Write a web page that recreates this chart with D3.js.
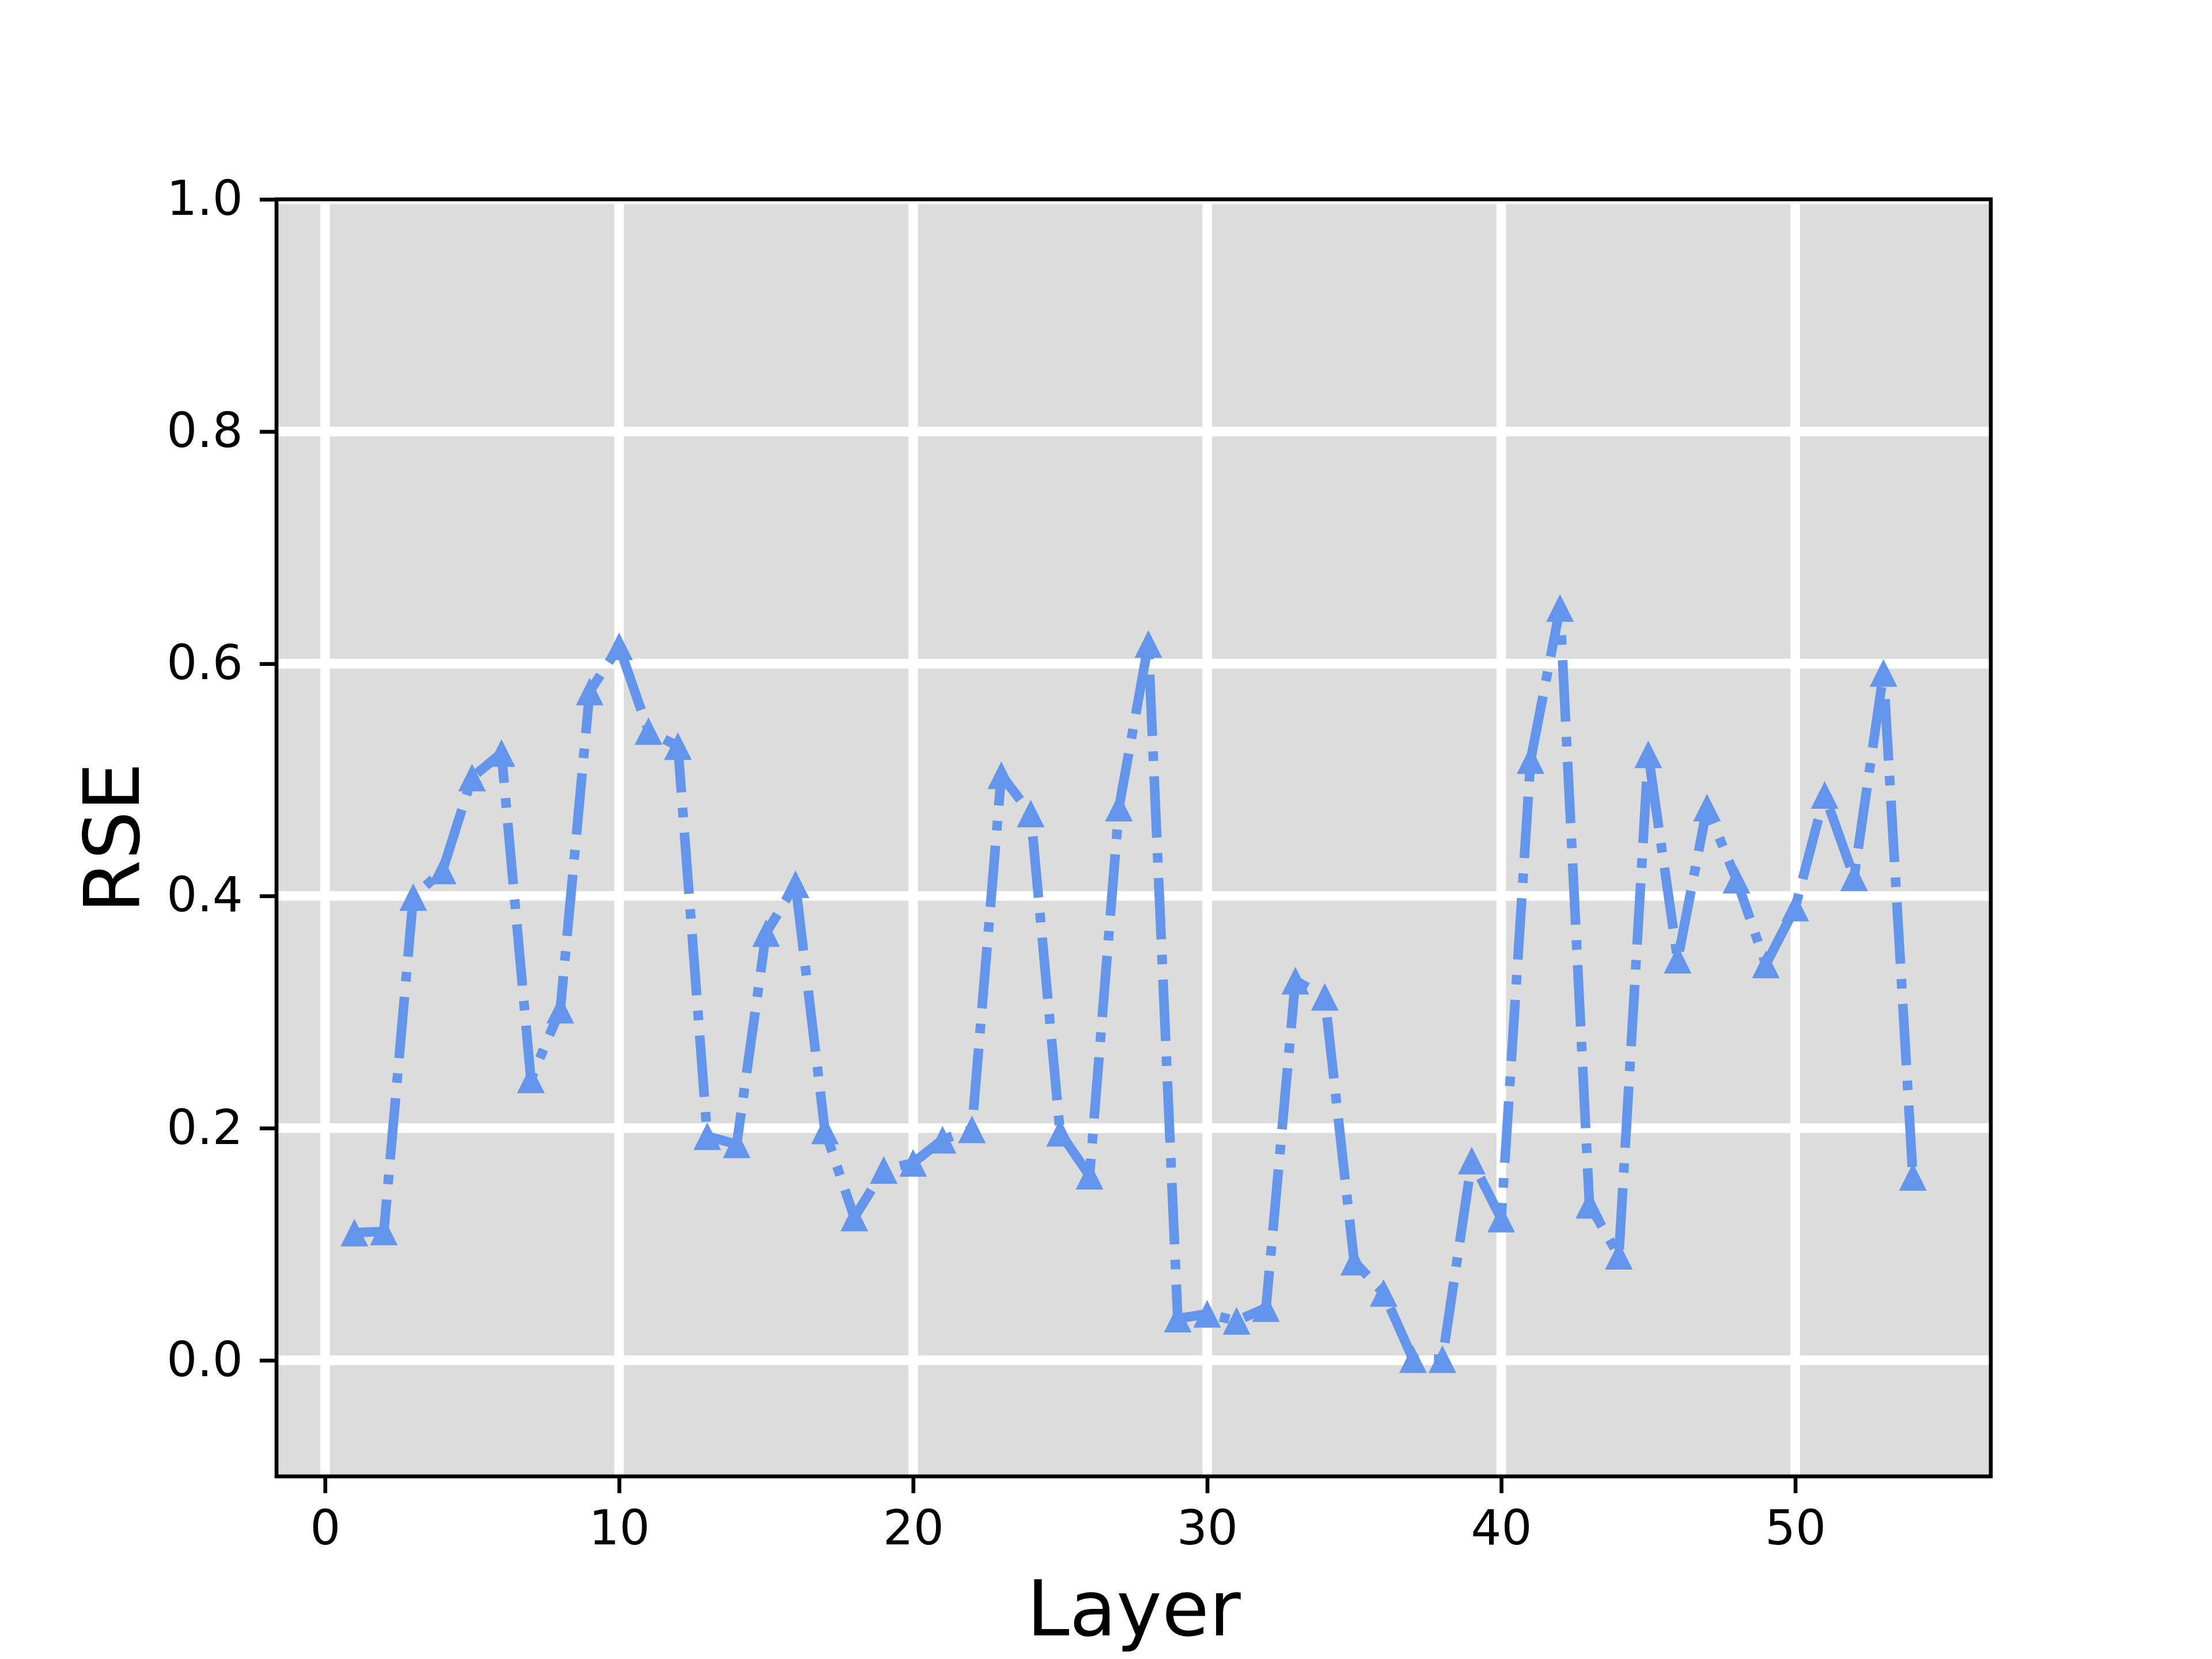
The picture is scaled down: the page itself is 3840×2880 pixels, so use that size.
<!DOCTYPE html>
<html>
<head>
<meta charset="utf-8">
<script src="https://cdn.jsdelivr.net/npm/d3@7"></script>
<style>
  body { margin: 0; background: #fff; }
  svg { display: block; font-family: "DejaVu Sans", sans-serif; }
</style>
</head>
<body>
<div id="chart"></div>
<script>
const layers = d3.range(1, 55);
const rse = [
  0.110, 0.111, 0.399, 0.422, 0.502, 0.523, 0.242, 0.302, 0.576, 0.615,
  0.542, 0.529, 0.193, 0.186, 0.368, 0.410, 0.198, 0.123, 0.164, 0.170,
  0.190, 0.199, 0.504, 0.471, 0.196, 0.159, 0.476, 0.617, 0.036, 0.040,
  0.034, 0.045, 0.327, 0.313, 0.085, 0.058, 0.001, 0.001, 0.172, 0.122,
  0.517, 0.648, 0.134, 0.090, 0.522, 0.345, 0.476, 0.414, 0.341, 0.390,
  0.487, 0.416, 0.592, 0.158
];
const xTicks = [0, 10, 20, 30, 40, 50];
const yTicks = [0.0, 0.2, 0.4, 0.6, 0.8, 1.0];

const width = 3840, height = 2880;
const margin = { top: 346, right: 384, bottom: 317, left: 480 };
const pt = 600 / 72; // matplotlib points -> px at 600 dpi

const data = layers.map((l, i) => ({ layer: l, value: rse[i] }));

const svg = d3.select("#chart").append("svg")
  .attr("width", width)
  .attr("height", height);

const x = d3.scaleLinear().domain([-1.65, 56.65]).range([margin.left, width - margin.right]);
const y = d3.scaleLinear().domain([-0.1, 1.0]).range([height - margin.bottom, margin.top]);

// axes background
svg.append("rect")
  .attr("x", margin.left)
  .attr("y", margin.top)
  .attr("width", width - margin.left - margin.right)
  .attr("height", height - margin.top - margin.bottom)
  .attr("fill", "#dcdcdc");

// grid
const grid = svg.append("g").attr("stroke", "#fff").attr("stroke-width", 2 * pt);
grid.selectAll(".gx").data(xTicks).join("line")
  .attr("x1", d => x(d)).attr("x2", d => x(d))
  .attr("y1", margin.top).attr("y2", height - margin.bottom);
grid.selectAll(".gy").data(yTicks).join("line")
  .attr("x1", margin.left).attr("x2", width - margin.right)
  .attr("y1", d => y(d)).attr("y2", d => y(d));

// line, dash-dot
const lw = 2 * pt;
svg.append("path")
  .datum(data)
  .attr("fill", "none")
  .attr("stroke", "cornflowerblue")
  .attr("stroke-width", lw)
  .attr("stroke-linejoin", "round")
  .attr("stroke-dasharray", [6.4, 1.6, 1, 1.6].map(v => v * lw).join(" "))
  .attr("d", d3.line().x(d => x(d.layer)).y(d => y(d.value)));

// triangle markers
const h = 24;
svg.append("g").selectAll("path")
  .data(data)
  .join("path")
  .attr("transform", d => `translate(${x(d.layer)},${y(d.value)})`)
  .attr("d", `M0,${-h}L${h},${h}L${-h},${h}Z`)
  .attr("fill", "cornflowerblue");

// axes
const xAxis = svg.append("g")
  .attr("transform", `translate(0,${height - margin.bottom})`)
  .call(d3.axisBottom(x).tickValues(xTicks).tickFormat(d3.format("d")).tickSize(3.5 * pt).tickPadding(3.5 * pt).tickSizeOuter(0));
const yAxis = svg.append("g")
  .attr("transform", `translate(${margin.left},0)`)
  .call(d3.axisLeft(y).tickValues(yTicks).tickFormat(d3.format(".1f")).tickSize(3.5 * pt).tickPadding(3.5 * pt).tickSizeOuter(0));

[xAxis, yAxis].forEach(g => {
  g.select(".domain").remove();
  g.selectAll(".tick line").attr("stroke", "#000").attr("stroke-width", 0.8 * pt);
  g.selectAll(".tick text")
    .attr("fill", "#000")
    .style("font-size", `${10 * pt}px`)
    .style("font-family", "DejaVu Sans");
});

// frame
svg.append("rect")
  .attr("x", margin.left)
  .attr("y", margin.top)
  .attr("width", width - margin.left - margin.right)
  .attr("height", height - margin.top - margin.bottom)
  .attr("fill", "none")
  .attr("stroke", "#000")
  .attr("stroke-width", 0.8 * pt);

// axis labels
svg.append("text")
  .attr("x", (margin.left + width - margin.right) / 2)
  .attr("y", 2839)
  .attr("text-anchor", "middle")
  .style("font-size", `${16 * pt}px`)
  .text("Layer");

svg.append("text")
  .attr("transform", `translate(241,${(margin.top + height - margin.bottom) / 2}) rotate(-90)`)
  .attr("text-anchor", "middle")
  .style("font-size", `${16 * pt}px`)
  .text("RSE");
</script>
</body>
</html>
